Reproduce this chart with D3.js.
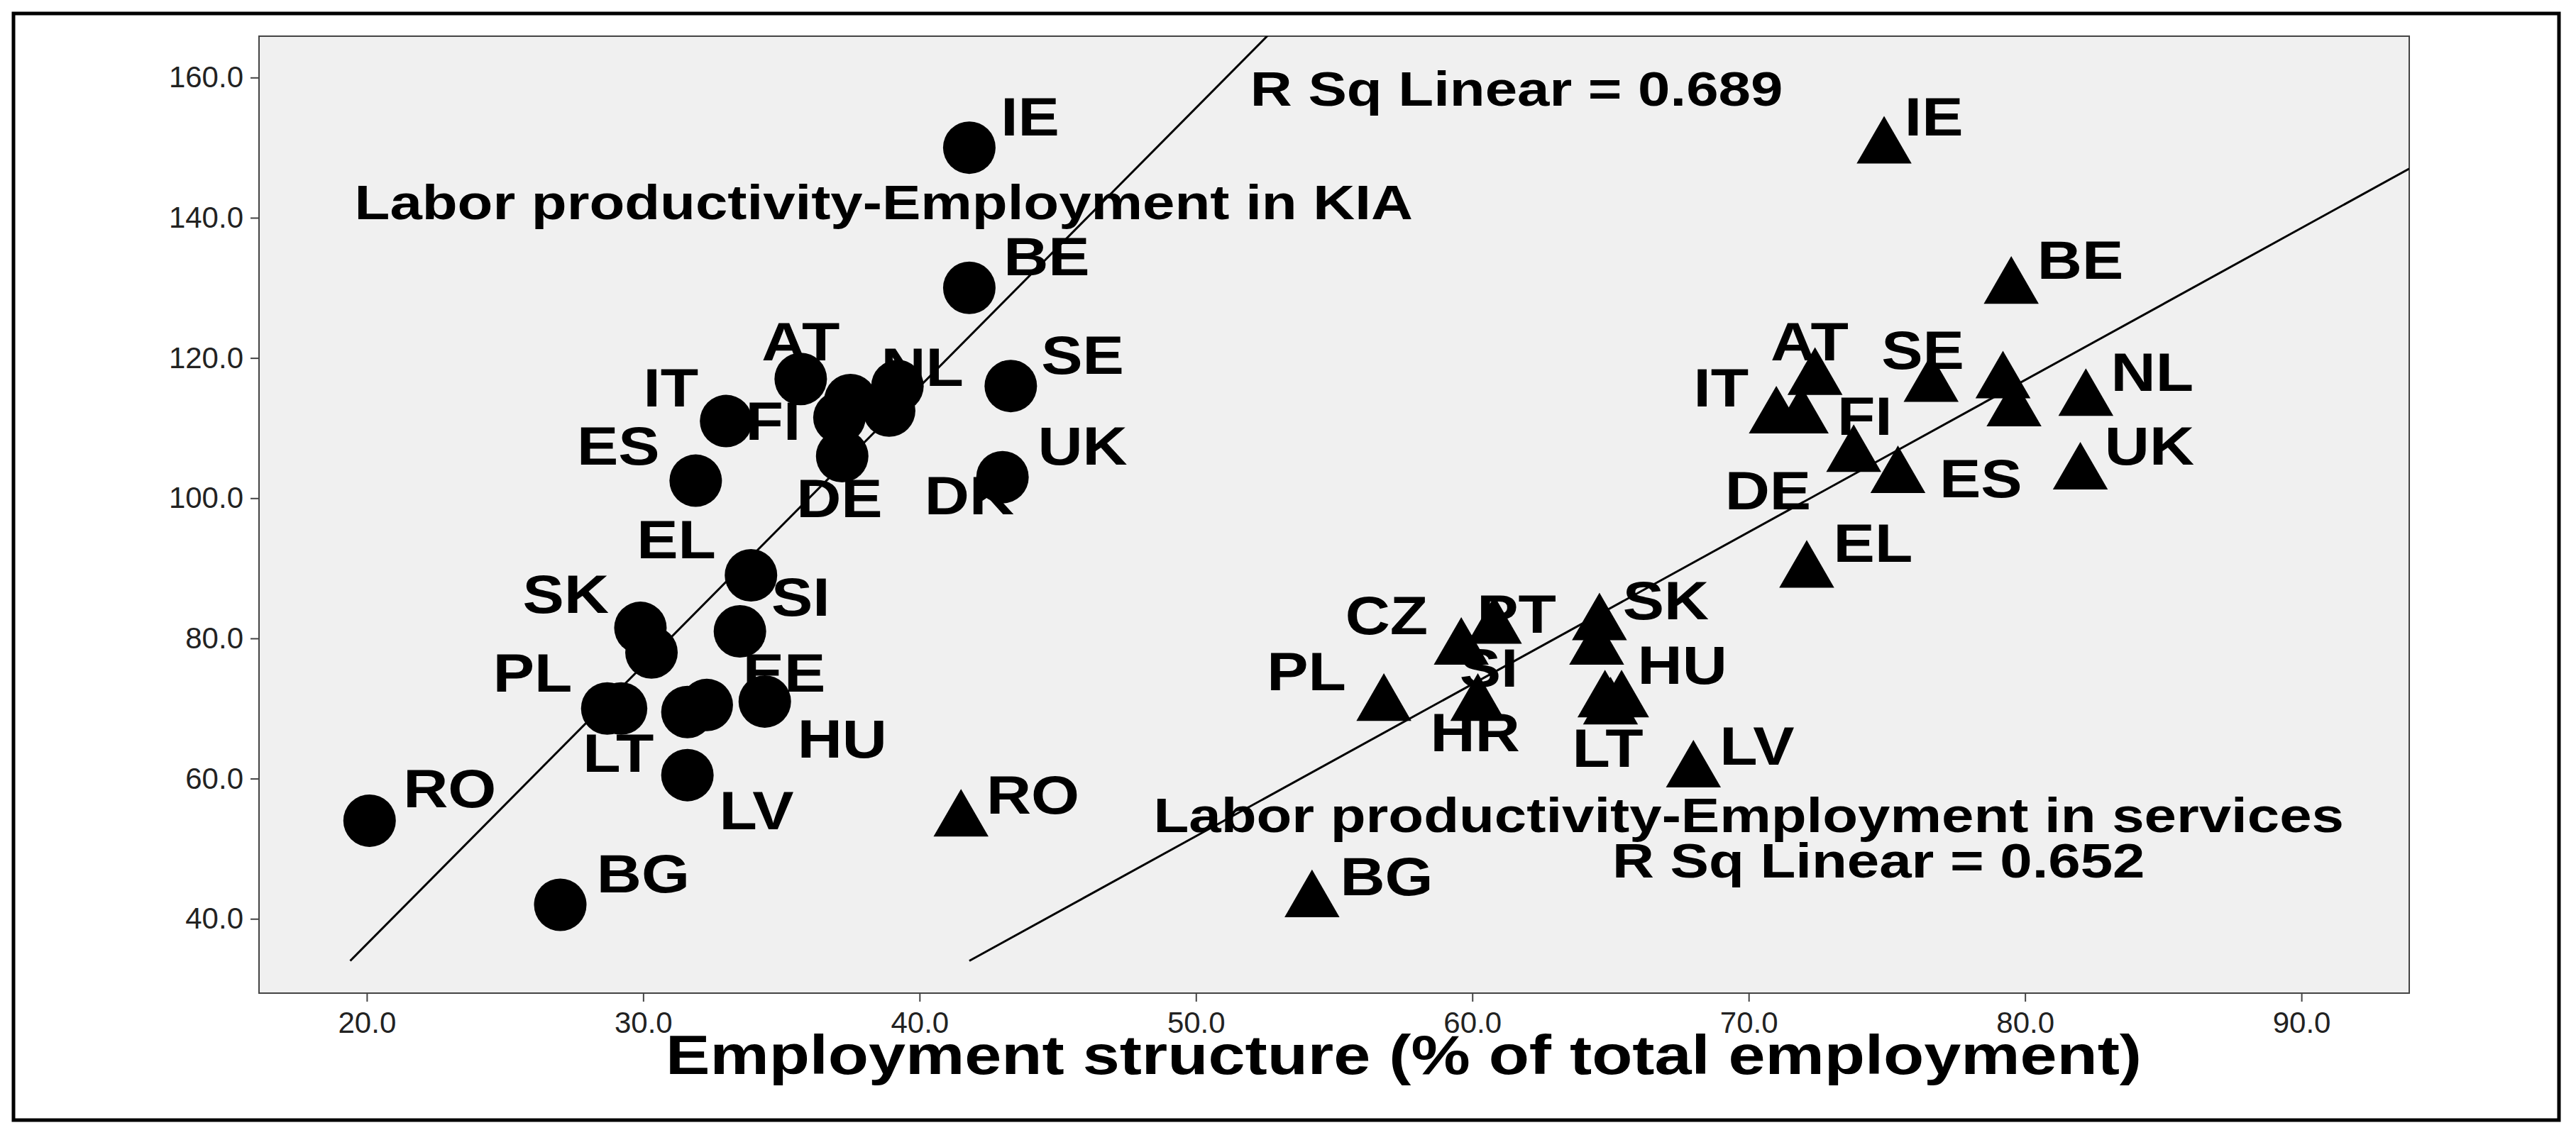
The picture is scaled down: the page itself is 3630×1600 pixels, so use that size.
<!DOCTYPE html>
<html>
<head>
<meta charset="utf-8">
<script src="https://cdn.jsdelivr.net/npm/d3@7"></script>
<style>body{margin:0;background:#fff}</style>
</head>
<body>
<script>
// KIA employment (circles)
var kiaCodes = ["IE","BE","AT","NL","x1","FI","x2","IT","SE","DE","ES","UK","EL","SK","x3","SI","PL","x4","LT","x5","EE","LV","RO","BG"];
var kiaX = [41.8,41.8,35.7,39.2,37.5,37.1,38.9,33.0,43.3,37.2,31.9,43.0,33.9,29.9,30.3,33.5,28.7,29.2,31.6,32.3,34.4,31.6,20.1,27.0];
var kiaY = [150,130,117,116,114,111.5,112.5,111,116,106,102.5,103,89,81.5,78,81,70,70,69.5,70.5,71,60.5,54,42];
// services employment (triangles)
var srvCodes = ["IE","BE","AT","SE","y1","NL","y2","IT","FI","DE","ES","UK","EL","CZ","PT","SK","y3","HU","LT","y4","SI","PL","LV","BG","RO"];
var srvX = [74.9,79.5,72.4,76.6,79.2,82.2,79.6,71.0,71.9,73.8,75.4,82.0,72.1,59.6,60.8,64.6,64.5,65.4,64.8,65.0,60.2,56.8,68.0,54.2,41.5];
var srvY = [150,130,117,116,116.5,114,112.5,111.5,111.5,106,103,103.5,89.5,78.5,81.5,82,78.5,71,71,70,70.5,70.5,61,42.5,54];

// label texts and where they sit (data units)
var kiaLabels = ["IE","BE","AT","NL","SE","IT","FI","ES","DK","UK","DE","EL","SK","SI","PL","EE","HU","LT","LV","RO","BG"];
var kiaLabelX = [44.0,44.6,35.7,40.1,45.9,31.0,34.7,29.1,41.8,45.9,37.1,31.2,27.2,35.7,26.0,35.1,37.2,29.1,34.1,23.0,30.0];
var kiaLabelY = [154.5,134.6,122.4,118.8,120.5,115.8,111.1,107.6,100.5,107.6,100.1,94.2,86.4,86.0,75.2,75.2,65.8,63.7,55.5,58.7,46.5];
var srvLabels = ["IE","BE","AT","SE","NL","IT","FI","UK","DE","ES","EL","CZ","PT","SK","SI","HU","PL","HR","LT","LV","RO","BG"];
var srvLabelX = [76.7,82.0,72.2,76.3,84.6,69.0,74.2,84.5,70.7,78.4,74.5,56.9,61.6,67.0,60.6,67.6,54.0,60.1,64.9,70.3,44.1,56.9];
var srvLabelY = [154.5,134.1,122.4,121.2,118.1,115.8,111.8,107.6,101.2,102.9,93.7,83.4,83.6,85.5,75.9,76.3,75.4,66.7,64.4,64.8,57.8,46.1];

// fit lines (endpoints in data units)
var kiaFitX = [19.4, 52.6], kiaFitY = [34, 166];
var srvFitX = [41.8, 93.9], srvFitY = [34, 147];

var notes = ["R Sq Linear = 0.689","Labor productivity-Employment in KIA","Labor productivity-Employment in services","R Sq Linear = 0.652"];
var noteX = [61.6, 38.7, 70.0, 74.7];
var noteY = [158.5, 142.3, 54.8, 48.4];

var xTicks = [20,30,40,50,60,70,80,90];
var yTicks = [40,60,80,100,120,140,160];

var W = 3630, H = 1600;
var m = {left: 365, right: 3395, top: 51, bottom: 1400};

var svg = d3.select("body").append("svg").attr("width", W).attr("height", H);
svg.append("rect").attr("x", 19).attr("y", 19).attr("width", 3587).attr("height", 1560)
   .attr("fill", "#fff").attr("stroke", "#000").attr("stroke-width", 5);

var x = d3.scaleLinear().domain([16.1, 93.9]).range([m.left, m.right]);
var y = d3.scaleLinear().domain([29.4, 165.9]).range([m.bottom, m.top]);

svg.append("rect").attr("x", m.left).attr("y", m.top)
   .attr("width", m.right - m.left).attr("height", m.bottom - m.top)
   .attr("fill", "#f0f0f0").attr("stroke", "#444").attr("stroke-width", 2);

svg.append("clipPath").attr("id", "c").append("rect")
   .attr("x", m.left).attr("y", m.top).attr("width", m.right - m.left).attr("height", m.bottom - m.top);

var xAxis = svg.append("g").attr("transform", "translate(0," + m.bottom + ")")
   .call(d3.axisBottom(x).tickValues(xTicks).tickFormat(d3.format(".1f")).tickSize(12).tickPadding(14));
var yAxis = svg.append("g").attr("transform", "translate(" + m.left + ",0)")
   .call(d3.axisLeft(y).tickValues(yTicks).tickFormat(d3.format(".1f")).tickSize(12).tickPadding(10));
[xAxis, yAxis].forEach(function (a) {
  a.select(".domain").remove();
  a.selectAll("line").attr("stroke", "#444").attr("stroke-width", 2);
  a.selectAll("text").attr("font-family", "Liberation Sans, sans-serif")
   .attr("font-size", 42).attr("fill", "#222");
});

var plot = svg.append("g").attr("clip-path", "url(#c)");
[[kiaFitX, kiaFitY], [srvFitX, srvFitY]].forEach(function (f) {
  plot.append("line").attr("x1", x(f[0][0])).attr("y1", y(f[1][0]))
      .attr("x2", x(f[0][1])).attr("y2", y(f[1][1]))
      .attr("stroke", "#000").attr("stroke-width", 3);
});

plot.selectAll("circle.kia").data(d3.range(kiaX.length)).enter().append("circle")
    .attr("cx", function (i) { return x(kiaX[i]); })
    .attr("cy", function (i) { return y(kiaY[i]); })
    .attr("r", 37).attr("fill", "#000");

var tri = d3.symbol().type(d3.symbolTriangle).size(2600);
plot.selectAll("path.srv").data(d3.range(srvX.length)).enter().append("path")
    .attr("d", tri)
    .attr("transform", function (i) { return "translate(" + x(srvX[i]) + "," + y(srvY[i]) + ")"; })
    .attr("fill", "#000");

// the original text is stretched sideways, so scale x a bit
function labels(t, lx, ly, size, sx) {
  svg.append("g").selectAll("text").data(t).enter().append("text")
     .attr("transform", function (d, i) { return "translate(" + x(lx[i]) + "," + y(ly[i]) + ") scale(" + sx + ",1)"; })
     .attr("dy", "0.36em").attr("text-anchor", "middle")
     .attr("font-family", "Liberation Sans, Arial, sans-serif")
     .attr("font-weight", "bold").attr("font-size", size)
     .text(function (d) { return d; });
}
labels(kiaLabels, kiaLabelX, kiaLabelY, 76, 1.15);
labels(srvLabels, srvLabelX, srvLabelY, 76, 1.15);
labels(notes, noteX, noteY, 68, 1.2);

svg.append("text").attr("transform", "translate(1978,1486) scale(1.2,1)").attr("dy", "0.36em")
   .attr("text-anchor", "middle").attr("font-family", "Liberation Sans, Arial, sans-serif")
   .attr("font-weight", "bold").attr("font-size", 78)
   .text("Employment structure (% of total employment)");
</script>
</body>
</html>
